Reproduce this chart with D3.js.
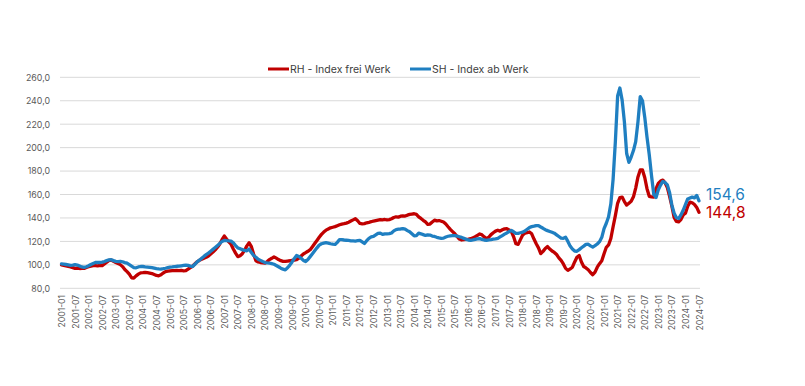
<!DOCTYPE html>
<html><head><meta charset="utf-8">
<script src="https://cdn.jsdelivr.net/npm/d3@7"></script>
<style>
html,body{margin:0;padding:0;background:#fff;}
svg{display:block;font-family:Inter,"Noto Sans",sans-serif;}
</style></head>
<body><svg id="c" width="805" height="386"></svg>
<script>
const startYear = 2001, startMonth = 1, monthCount = 283;
const seriesNames = ["RH - Index frei Werk", "SH - Index ab Werk"];
const yTicks = [80, 100, 120, 140, 160, 180, 200, 220, 240, 260];

const rh = [
100.0, 99.6, 99.1, 98.6, 98.2, 97.6, 97.0, 97.2, 96.9, 97.1, 97.0, 97.8,
98.4, 98.9, 99.4, 99.4, 99.2, 99.6, 99.4, 100.8, 102.2, 103.8, 104.1, 103.0,
102.0, 101.1, 100.2, 98.5, 96.0, 94.2, 92.1, 89.0, 88.8, 90.6, 92.1, 93.2,
93.3, 93.5, 93.4, 93.0, 92.6, 91.8, 91.0, 90.7, 91.5, 93.1, 94.2, 94.6,
94.8, 95.0, 95.1, 95.3, 95.0, 95.2, 94.9, 95.1, 96.4, 97.7, 99.0, 100.9,
102.6, 103.9, 104.8, 105.7, 106.5, 107.6, 109.2, 110.9, 112.8, 115.0, 117.8, 121.5,
124.6, 122.0, 119.6, 117.6, 113.5, 110.0, 107.0, 107.8, 109.5, 112.5, 116.2, 118.8,
115.5, 109.0, 103.5, 102.5, 102.0, 101.6, 101.4, 102.8, 104.5, 105.6, 106.8, 105.7,
104.5, 103.6, 103.0, 102.9, 103.2, 103.5, 103.9, 104.1, 104.4, 105.8, 107.6, 109.3,
110.4, 111.6, 112.9, 115.5, 118.2, 120.8, 123.5, 126.0, 128.0, 129.6, 130.6, 131.6,
132.1, 132.6, 133.4, 134.2, 134.8, 135.1, 135.6, 136.4, 137.4, 138.4, 139.4, 137.6,
135.3, 135.0, 135.2, 135.9, 136.3, 136.8, 137.4, 137.8, 138.2, 138.6, 138.4, 138.7,
138.3, 138.6, 139.3, 140.4, 141.0, 140.7, 141.5, 141.8, 141.6, 142.4, 143.0, 143.3,
143.6, 143.0, 141.0, 139.6, 138.0, 136.6, 134.5, 134.8, 136.6, 138.1, 137.5, 137.8,
137.2, 136.5, 134.8, 132.5, 130.3, 128.4, 126.5, 124.2, 122.0, 121.2, 121.6, 121.8,
122.0, 122.3, 123.0, 124.0, 125.2, 126.4, 125.6, 123.8, 122.4, 123.5, 125.8, 127.4,
128.8, 129.5, 128.8, 129.9, 130.7, 130.8, 129.8, 128.3, 124.0, 118.0, 117.5, 121.5,
125.4, 127.0, 127.4, 128.0, 126.5, 122.0, 118.0, 114.5, 109.6, 111.5, 114.0, 115.6,
113.5, 111.8, 110.6, 108.8, 106.0, 103.8, 100.8, 97.0, 95.3, 96.5, 98.0, 102.5,
106.5, 108.0, 102.5, 98.6, 97.4, 95.8, 93.5, 91.6, 93.8, 98.0, 101.0, 103.5,
109.5, 115.0, 117.0, 122.5, 132.5, 142.0, 152.5, 157.4, 157.8, 154.0, 151.0, 152.6,
154.2, 158.0, 165.5, 175.0, 181.0, 181.0, 174.5, 165.0, 158.5, 158.0, 157.8, 165.0,
169.5, 171.5, 172.3, 170.0, 166.0, 158.5, 150.0, 140.5, 137.0, 136.6, 138.6, 142.6,
144.0, 150.0, 153.5, 153.0, 151.5, 149.0, 144.8
];

const sh = [
100.8, 100.6, 100.3, 100.0, 99.6, 99.7, 100.2, 99.8, 99.0, 98.2, 97.8, 98.4,
99.2, 100.3, 101.2, 102.0, 102.2, 102.0, 102.3, 102.8, 103.6, 104.2, 104.4, 103.6,
103.0, 102.8, 103.0, 102.6, 101.9, 101.4, 100.2, 98.9, 97.7, 97.5, 98.2, 98.6,
98.6, 98.3, 98.1, 97.9, 97.6, 97.2, 96.8, 96.5, 96.4, 96.7, 97.1, 97.6,
98.0, 98.2, 98.5, 98.8, 98.9, 99.2, 99.5, 99.8, 99.5, 98.9, 98.6, 100.5,
102.6, 104.0, 105.6, 107.2, 108.7, 110.0, 111.6, 113.2, 114.8, 116.4, 118.2, 120.0,
120.8, 120.6, 120.5, 120.2, 118.8, 116.5, 114.4, 113.8, 113.0, 112.4, 112.0, 113.5,
110.5, 108.0, 106.5, 104.8, 103.8, 102.8, 102.0, 101.6, 101.4, 101.0, 100.5, 99.5,
98.4, 97.2, 96.3, 95.7, 97.5, 99.8, 102.5, 105.5, 108.0, 107.2, 105.6, 103.8,
102.9, 104.6, 107.0, 109.5, 112.0, 114.5, 116.8, 118.0, 118.5, 118.9, 118.6, 118.0,
117.6, 117.4, 119.2, 121.6, 121.5, 121.2, 121.0, 120.8, 120.5, 120.4, 120.3, 120.6,
120.9, 119.6, 118.2, 120.6, 122.6, 123.8, 124.2, 125.5, 126.8, 127.1, 126.0, 126.5,
126.4, 126.6, 127.2, 129.0, 130.1, 130.4, 130.6, 130.9, 130.4, 129.2, 128.2, 126.5,
124.8, 125.0, 127.0, 126.5, 125.8, 125.1, 125.6, 125.4, 124.6, 124.2, 123.5, 123.0,
122.6, 122.8, 123.8, 124.4, 124.8, 125.0, 125.0, 124.6, 124.0, 123.4, 122.6, 121.8,
121.2, 120.9, 121.3, 121.8, 122.2, 122.4, 121.8, 121.2, 120.9, 121.3, 121.6, 122.0,
122.2, 122.6, 123.8, 125.0, 126.2, 127.2, 128.4, 129.3, 128.2, 126.8, 126.9, 127.4,
127.9, 128.9, 130.4, 131.8, 132.6, 133.0, 133.5, 133.5, 132.3, 131.2, 130.0, 129.2,
128.5, 127.8, 127.0, 125.6, 124.2, 122.8, 122.6, 123.5, 120.0, 116.0, 113.5, 111.8,
111.6, 113.0, 114.6, 116.0, 117.5, 117.6, 116.2, 115.2, 116.4, 117.8, 119.8, 123.5,
130.9, 135.5, 141.0, 152.0, 173.0, 205.0, 244.0, 250.9, 240.5, 222.0, 195.0, 187.5,
192.0, 197.5, 205.1, 222.0, 243.5, 240.0, 226.0, 209.0, 194.0, 176.0, 160.0, 157.5,
164.0, 168.0, 171.2, 170.2, 168.2, 161.5, 151.0, 144.0, 140.2, 139.5, 142.6, 146.6,
151.5, 156.2, 157.0, 157.8, 157.2, 159.2, 154.6
];

// month categories
const categories = [];
for (let k = 0; k < monthCount; k++) {
  const m = (startMonth - 1 + k);
  const y = startYear + Math.floor(m / 12);
  const mm = (m % 12) + 1;
  categories.push(y + "-" + String(mm).padStart(2, "0"));
}
const tickLabels = categories.filter((c, i) => i % 6 === 0);

const colors = ["#c00000", "#1f7fc1"];
const fmt = v => d3.format(".1f")(v).replace(".", ",");

const svg = d3.select("#c");
const x = d3.scalePoint().domain(categories).range([61.5, 699]);
const y = d3.scaleLinear().domain([80, 260]).range([288.3, 77.3]);

// grid
svg.append("g").selectAll("line").data(yTicks).join("line")
  .attr("x1", 60).attr("x2", 700)
  .attr("y1", d => y(d)).attr("y2", d => y(d))
  .attr("stroke", "#d9d9d9").attr("stroke-width", 1);

// y axis labels
const yAxis = d3.axisLeft(y).tickValues(yTicks).tickFormat(fmt).tickSize(0).tickPadding(0);
const ya = svg.append("g").attr("transform", "translate(50,0)").call(yAxis);
ya.select(".domain").remove();
ya.selectAll("text").attr("font-size", 8.8).attr("fill", "#595959").attr("font-family", "Inter,sans-serif");

// x axis labels
const xAxis = d3.axisBottom(x).tickValues(tickLabels).tickSize(0).tickPadding(0);
const xa = svg.append("g").attr("transform", "translate(0,295)").call(xAxis);
xa.select(".domain").remove();
xa.selectAll("text")
  .attr("font-size", 8.6).attr("fill", "#595959").attr("font-family", "Inter,sans-serif")
  .attr("transform", "rotate(-90)")
  .attr("text-anchor", "end").attr("x", 0).attr("y", 0).attr("dy", "0.35em");

// lines
const series = [rh, sh];
const line = d3.line().x((d, i) => x(categories[i])).y(d => y(d));
series.forEach((s, k) => {
  svg.append("path").datum(s)
    .attr("d", line)
    .attr("fill", "none")
    .attr("stroke", colors[k])
    .attr("stroke-width", 3.3)
    .attr("stroke-linejoin", "round")
    .attr("stroke-linecap", "round");
});

// end labels
const endY = [212.7, 195];
series.forEach((s, k) => {
  svg.append("text")
    .attr("x", 706).attr("y", endY[k]).attr("dy", "0.35em")
    .attr("font-size", 15.5).attr("fill", colors[k])
    .text(fmt(s[s.length - 1]));
});

// legend
const legX = [268, 410];
seriesNames.forEach((n, k) => {
  svg.append("line").attr("x1", legX[k]).attr("x2", legX[k] + 21)
    .attr("y1", 69).attr("y2", 69)
    .attr("stroke", colors[k]).attr("stroke-width", 3);
  svg.append("text").attr("x", legX[k] + 22).attr("y", 69).attr("dy", "0.35em")
    .attr("font-size", 10.5).attr("fill", "#404040").text(n);
});
</script></body></html>
